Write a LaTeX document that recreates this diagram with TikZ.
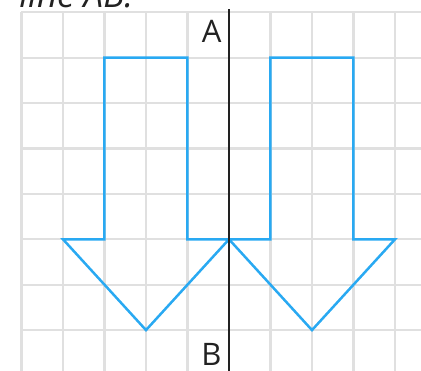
\documentclass[tikz,border=0pt]{standalone}
\usepackage{fontspec}
\setmainfont{Open Sans}
\usetikzlibrary{positioning}

\definecolor{gridgray}{HTML}{E0E0E0}
\definecolor{arrowblue}{HTML}{29A9F2}
\definecolor{inkblack}{HTML}{222222}

\begin{document}
\begin{tikzpicture}[
    x=20.75pt, y=22.7pt,
    gridline/.style={draw=gridgray, line width=1.1pt},
    outline/.style={draw=arrowblue, line width=1.25pt, line join=miter},
    mirror/.style={draw=inkblack, line width=1.4pt},
    letter/.style={font=\fontsize{15.5}{18}\selectfont, text=inkblack, inner sep=0pt},
    caption/.style={font=\itshape\fontsize{17.5}{20}\selectfont, text=inkblack, inner sep=0pt}
]

\useasboundingbox (-5.518,-2.901) rectangle (4.627,5.271);
\clip (-5.518,-2.901) rectangle (4.627,5.271);

% Squared paper.
\draw[gridline, step={(1,1)}] (-5,-3) grid (5,5);

% Cut-off caption line above the grid.
\node[caption, anchor=base west] (cap) at (-5.06,5.095) {line AB.};

% The two arrows, one on each side of AB.
\foreach \s in {-4,0} {
  \begin{scope}[shift={(\s,0)}]
    \draw[outline] (1,4) -- (3,4) -- (3,0) -- (4,0) -- (2,-2) -- (0,0) -- (1,0) -- cycle;
  \end{scope}
}

% Mirror line AB.
\coordinate (top) at (0,5.07);
\coordinate (bottom) at (0,-2.95);
\draw[mirror] (top) -- (bottom);
\node[letter, anchor=east] (A) at (-0.17,4.57) {A};
\node[letter, anchor=east] (B) at (-0.17,-2.54) {B};

\end{tikzpicture}
\end{document}
